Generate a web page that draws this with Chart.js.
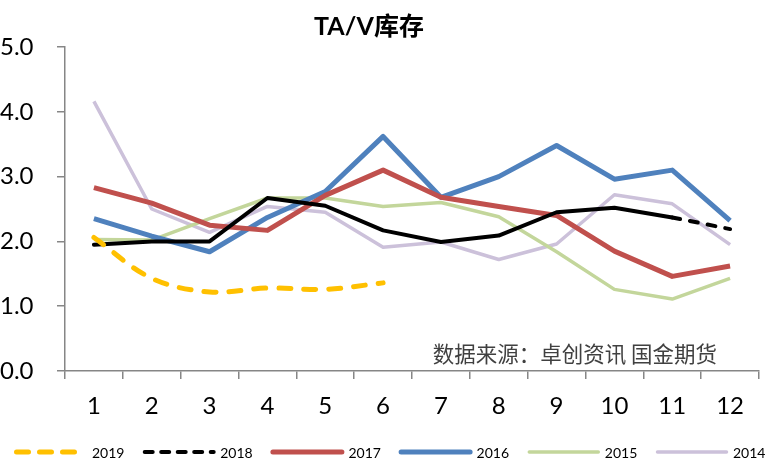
<!DOCTYPE html>
<html>
<head>
<meta charset="utf-8">
<script src="https://cdn.jsdelivr.net/npm/chart.js@4.4.1/dist/chart.umd.min.js"></script>
<style>
  body { margin: 0; background: #fff; }
  #wrap { width: 770px; height: 462px; position: relative; }
</style>
</head>
<body>
<div id="wrap"><canvas id="myChart"></canvas></div>
<script>
// data
const months = ["1", "2", "3", "4", "5", "6", "7", "8", "9", "10", "11", "12"];
const yTicks = [0, 1, 2, 3, 4, 5];
const v2019 = [2.06, 1.43, 1.22, 1.28, 1.26, 1.36];
const v2018 = [1.95, 2.00, 2.00, 2.67, 2.55, 2.17, 1.99, 2.09, 2.45, 2.52, 2.37, 2.19];
const v2017 = [2.83, 2.59, 2.25, 2.17, 2.71, 3.10, 2.68, 2.54, 2.40, 1.85, 1.46, 1.62];
const v2016 = [2.35, 2.08, 1.84, 2.37, 2.77, 3.62, 2.68, 3.00, 3.48, 2.96, 3.10, 2.32];
const v2015 = [2.03, 2.02, 2.35, 2.67, 2.67, 2.54, 2.60, 2.38, 1.84, 1.26, 1.11, 1.43];
const v2014 = [4.16, 2.50, 2.14, 2.54, 2.45, 1.91, 1.99, 1.72, 1.96, 2.72, 2.58, 1.95];

const latin = "Lato, 'Noto Sans CJK SC', sans-serif";
const axisGrey = "#868686";

// title (sits a bit left of centre), legend row and source note
const decorations = {
  id: "decorations",
  afterDraw(chart) {
    const ctx = chart.ctx;
    const area = chart.chartArea;
    ctx.save();

    // title
    ctx.font = "bold 25px " + latin;
    ctx.fillStyle = "#000";
    ctx.textAlign = "center";
    ctx.textBaseline = "middle";
    ctx.fillText("TA/V库存", 369, 27);

    // source note
    ctx.font = "21.5px 'Noto Sans CJK SC'";
    ctx.fillStyle = "#404040";
    ctx.textAlign = "right";
    ctx.fillText("数据来源：卓创资讯 国金期货", area.right - 42, area.bottom - 17);

    // legend
    ctx.font = "14px " + latin;
    ctx.textAlign = "left";
    chart.data.datasets.forEach(function (ds, i) {
      const x = 14 + i * 128.2;
      const y = 452;
      ctx.beginPath();
      ctx.strokeStyle = ds.borderColor;
      ctx.lineWidth = ds.borderWidth;
      ctx.lineCap = "round";
      ctx.setLineDash(ds.legendDash || []);
      ctx.moveTo(x + 2.5, y);
      ctx.lineTo(x + 71.5, y);
      ctx.stroke();
      ctx.setLineDash([]);
      ctx.fillStyle = "#000";
      ctx.fillText(ds.label, x + 78, y + 1);
    });
    ctx.restore();
  },
};

var ctx = document.getElementById("myChart").getContext("2d");
var myChart = new Chart(ctx, {
  type: "line",
  data: {
    labels: months,
    datasets: [
      {
        label: "2019",
        data: v2019,
        borderColor: "#FFC000",
        borderWidth: 5,
        borderDash: [12, 13],
        legendDash: [12, 11],
        borderCapStyle: "round",
        tension: 0.35,
      },
      {
        label: "2018",
        data: v2018,
        borderColor: "#000000",
        borderWidth: 4,
        borderCapStyle: "round",
        legendDash: [8, 8.5],
        segment: {
          borderDash: (c) => (c.p0DataIndex >= 10 ? [8, 10] : []),
        },
      },
      {
        label: "2017",
        data: v2017,
        borderColor: "#C0504D",
        borderWidth: 5,
      },
      {
        label: "2016",
        data: v2016,
        borderColor: "#4F81BD",
        borderWidth: 5,
      },
      {
        label: "2015",
        data: v2015,
        borderColor: "#C3D69B",
        borderWidth: 3.5,
      },
      {
        label: "2014",
        data: v2014,
        borderColor: "#CCC1DA",
        borderWidth: 3.5,
      },
    ],
  },
  options: {
    responsive: true,
    maintainAspectRatio: false,
    animation: false,
    events: [],
    elements: {
      point: { radius: 0, hoverRadius: 0 },
      line: { fill: false, borderJoinStyle: "round" },
    },
    layout: {
      padding: { left: 0, right: 11, top: 47, bottom: 40 },
    },
    scales: {
      x: {
        offset: true,
        afterFit: function (scale) {
          scale.height = 51;
        },
        border: { color: axisGrey, width: 1.5 },
        grid: {
          offset: true,
          drawOnChartArea: false,
          color: axisGrey,
          lineWidth: 1.5,
          tickLength: 8,
        },
        ticks: {
          color: "#000",
          padding: 13,
          font: { family: latin, size: 24 },
        },
      },
      y: {
        min: 0,
        max: 5,
        afterFit: function (scale) {
          scale.width = 65;
        },
        afterBuildTicks: function (scale) {
          scale.ticks = yTicks.map((v) => ({ value: v }));
        },
        border: { color: axisGrey, width: 1.5 },
        grid: {
          drawOnChartArea: false,
          color: axisGrey,
          lineWidth: 1.5,
          tickLength: 8,
        },
        ticks: {
          crossAlign: "far",
          color: "#000",
          font: { family: latin, size: 24 },
          callback: function (value) {
            return Number(value).toFixed(1);
          },
        },
      },
    },
    plugins: {
      title: { display: false },
      legend: { display: false },
      tooltip: { enabled: false },
    },
  },
  plugins: [decorations],
});
</script>
</body>
</html>
